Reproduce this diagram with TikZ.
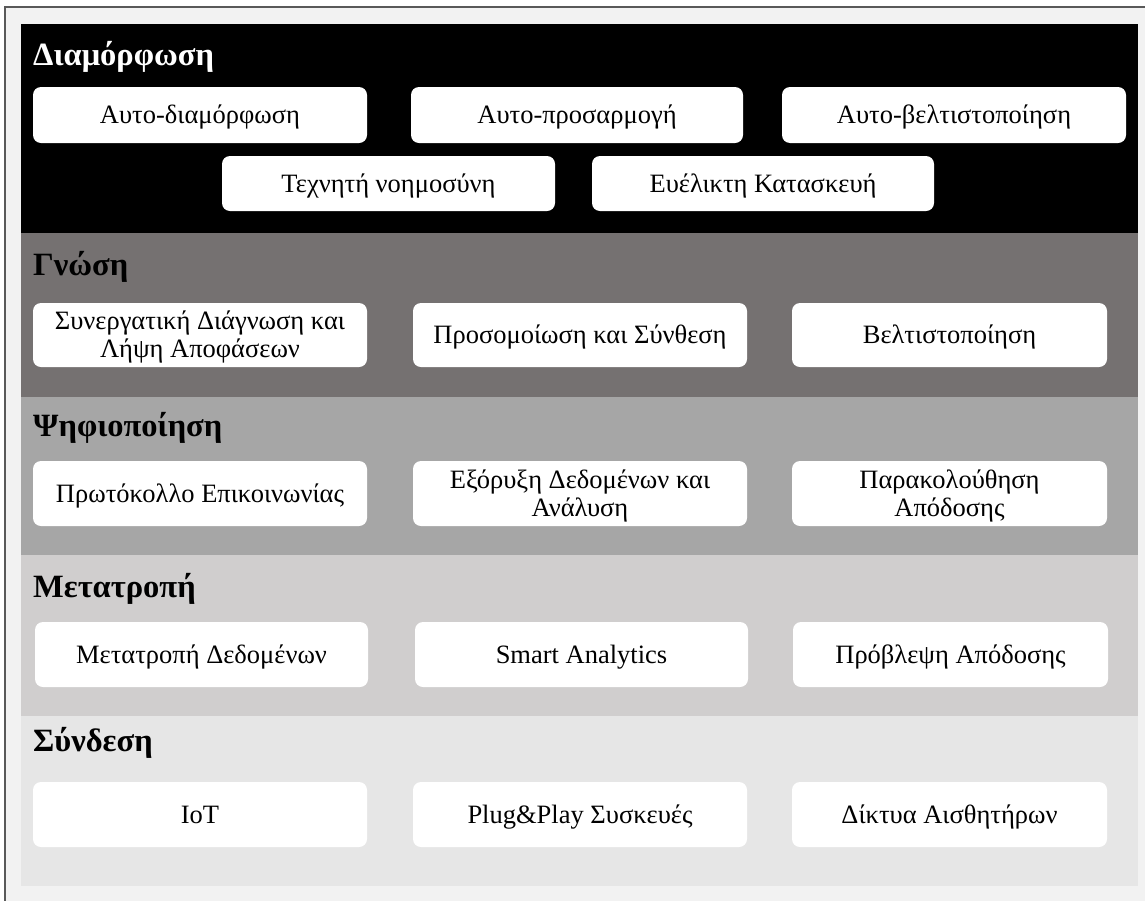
\documentclass[tikz,border=0pt]{standalone}
\usepackage{fontspec}
\setmainfont{Liberation Serif}
\definecolor{frameline}{HTML}{595959}
\definecolor{framefill}{HTML}{F2F2F2}
\definecolor{layerA}{HTML}{000000}
\definecolor{layerB}{HTML}{757171}
\definecolor{layerC}{HTML}{A6A6A6}
\definecolor{layerD}{HTML}{D0CECE}
\definecolor{layerE}{HTML}{E6E6E6}
\tikzset{
  cellstyle/.style={fill=white, draw=none, rounded corners=8pt, inner sep=0pt, outer sep=0pt,
    align=center, text=black, font=\fontsize{26.5}{28}\selectfont},
  % vertical centring of the capitals of one or two lines
  oneline/.style={text height=17.2pt, text depth=0pt},
  twoline/.style={text height=45.2pt, text depth=0pt},
  layertitle/.style={anchor=base west, inner sep=0pt, font=\fontsize{32.5}{36}\selectfont\bfseries},
}
% a white rounded box given by its corners (x1,y1) and (x2,y2)
\newcommand\cellbox[7][oneline]{%
  \node[cellstyle, #1, minimum width={(#5-#3)*1pt}, minimum height={(#6-#4)*1pt}]
    (#2) at ({(#3+#5)/2},{(#4+#6)/2}) {#7};}
\begin{document}
\begin{tikzpicture}[x=1pt,y=-1pt]
\useasboundingbox (0,0) rectangle (1145,900);
\clip (0,0) rectangle (1145,900);
% outer frame
\draw[frameline, fill=framefill, line width=1.2pt] (5,7) rectangle (1160,920);
% layer bands
\fill[layerA] (21,24)  rectangle (1138,233);
\fill[layerB] (21,233) rectangle (1138,397);
\fill[layerC] (21,397) rectangle (1138,555);
\fill[layerD] (21,555) rectangle (1138,716);
\fill[layerE] (21,716) rectangle (1138,886);
% layer titles
\node[layertitle, text=white] (tA) at (33,65)  {Διαμόρφωση};
\node[layertitle] (tB) at (33,275) {Γνώση};
\node[layertitle] (tC) at (33,436) {Ψηφιοποίηση};
\node[layertitle] (tD) at (33,597) {Μετατροπή};
\node[layertitle] (tE) at (33,751) {Σύνδεση};
% Διαμόρφωση
\cellbox{a1}{33}{87}{367}{143}{Αυτο-διαμόρφωση}
\cellbox{a2}{411}{87}{743}{143}{Αυτο-προσαρμογή}
\cellbox{a3}{782}{87}{1126}{143}{Αυτο-βελτιστοποίηση}
\cellbox{a4}{222}{156}{555}{211}{Τεχνητή νοημοσύνη}
\cellbox{a5}{592}{156}{934}{211}{Ευέλικτη Κατασκευή}
% Γνώση
\cellbox[twoline]{b1}{33}{303}{367}{367}{Συνεργατική Διάγνωση και\\Λήψη Αποφάσεων}
\cellbox{b2}{413}{303}{747}{367}{Προσομοίωση και Σύνθεση}
\cellbox{b3}{792}{303}{1107}{367}{Βελτιστοποίηση}
% Ψηφιοποίηση
\cellbox{c1}{33}{461}{367}{526}{Πρωτόκολλο Επικοινωνίας}
\cellbox[twoline]{c2}{413}{461}{747}{526}{Εξόρυξη Δεδομένων και\\Ανάλυση}
\cellbox[twoline]{c3}{792}{461}{1107}{526}{Παρακολούθηση\\Απόδοσης}
% Μετατροπή
\cellbox{d1}{35}{622}{368}{687}{Μετατροπή Δεδομένων}
\cellbox{d2}{415}{622}{748}{687}{Smart Analytics}
\cellbox{d3}{793}{622}{1108}{687}{Πρόβλεψη Απόδοσης}
% Σύνδεση
\cellbox{e1}{33}{782}{367}{847}{IoT}
\cellbox{e2}{413}{782}{747}{847}{Plug\&Play Συσκευές}
\cellbox{e3}{792}{782}{1107}{847}{Δίκτυα Αισθητήρων}
\end{tikzpicture}
\end{document}
